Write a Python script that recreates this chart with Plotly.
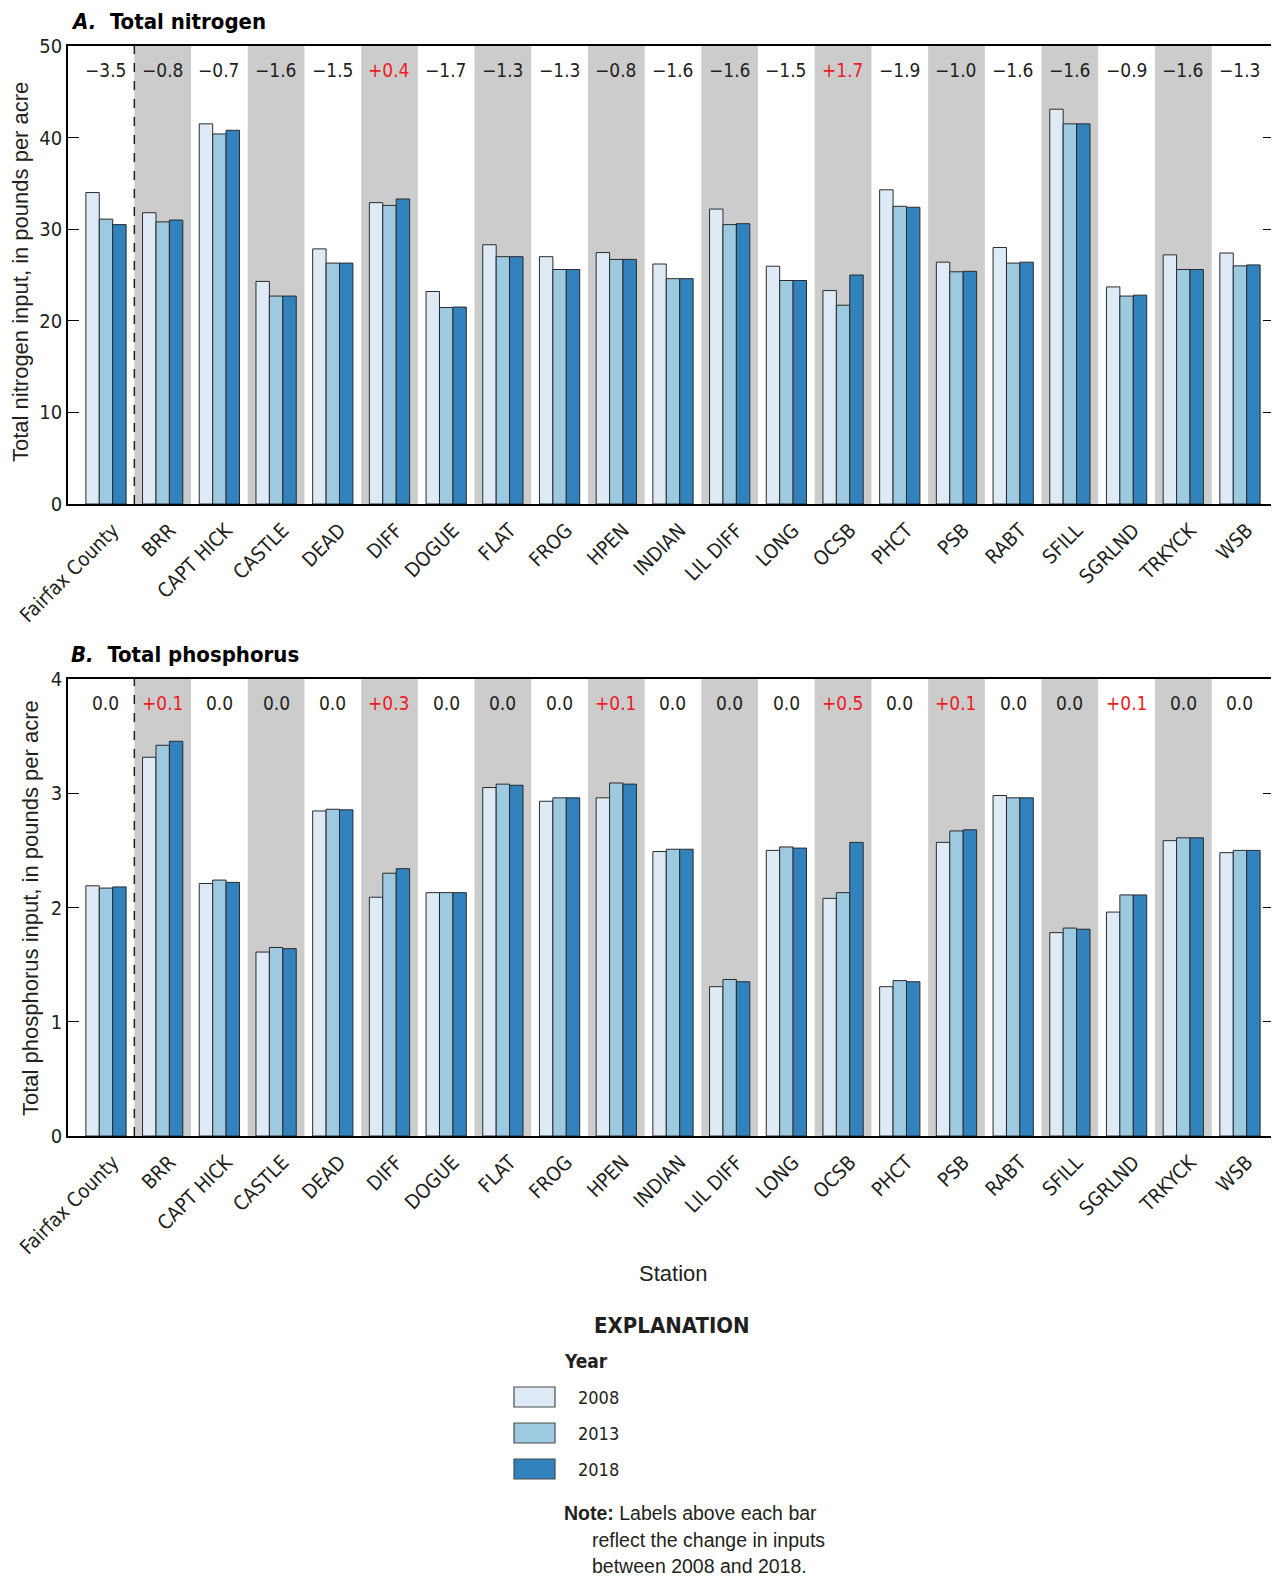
import plotly.graph_objects as go

stations = ["Fairfax County", "BRR", "CAPT HICK", "CASTLE", "DEAD", "DIFF", "DOGUE",
            "FLAT", "FROG", "HPEN", "INDIAN", "LIL DIFF", "LONG", "OCSB", "PHCT",
            "PSB", "RABT", "SFILL", "SGRLND", "TRKYCK", "WSB"]
years = ["2008", "2013", "2018"]

n_2008 = [34.0, 31.8, 41.5, 24.3, 27.85, 32.9, 23.2, 28.3, 27.0, 27.45, 26.2,
          32.2, 25.96, 23.3, 34.3, 26.4, 28.0, 43.1, 23.7, 27.2, 27.4]
n_2013 = [31.1, 30.8, 40.4, 22.7, 26.3, 32.6, 21.45, 27.0, 25.6, 26.7, 24.6,
          30.5, 24.4, 21.7, 32.5, 25.35, 26.3, 41.5, 22.7, 25.6, 26.0]
n_2018 = [30.5, 31.0, 40.8, 22.7, 26.3, 33.3, 21.5, 27.0, 25.6, 26.7, 24.6,
          30.6, 24.4, 25.0, 32.4, 25.4, 26.4, 41.5, 22.8, 25.6, 26.1]
n_change = [-3.5, -0.8, -0.7, -1.6, -1.5, 0.4, -1.7, -1.3, -1.3, -0.8, -1.6,
            -1.6, -1.5, 1.7, -1.9, -1.0, -1.6, -1.6, -0.9, -1.6, -1.3]

p_2008 = [2.19, 3.315, 2.21, 1.61, 2.845, 2.09, 2.13, 3.05, 2.93, 2.96, 2.49,
          1.307, 2.50, 2.08, 1.307, 2.57, 2.98, 1.78, 1.96, 2.585, 2.48]
p_2013 = [2.17, 3.42, 2.24, 1.65, 2.86, 2.30, 2.13, 3.08, 2.96, 3.09, 2.51,
          1.37, 2.53, 2.13, 1.36, 2.67, 2.96, 1.82, 2.11, 2.61, 2.50]
p_2018 = [2.18, 3.455, 2.22, 1.64, 2.855, 2.34, 2.13, 3.07, 2.96, 3.08, 2.51,
          1.35, 2.52, 2.57, 1.35, 2.68, 2.96, 1.81, 2.11, 2.61, 2.50]
p_change = [0.0, 0.1, 0.0, 0.0, 0.0, 0.3, 0.0, 0.0, 0.0, 0.1, 0.0,
            0.0, 0.0, 0.5, 0.0, 0.1, 0.0, 0.0, 0.1, 0.0, 0.0]

colors = ["#deebf7", "#9ecae1", "#3182bd"]
NARROW = "Liberation Sans Narrow, DejaVu Sans Condensed, Roboto Condensed, Arial Narrow, sans-serif"
REG = "Liberation Sans, Arial, sans-serif"
OFF = 8  # default page body margin
W, H = 1279 - OFF, 1583 - OFF

def px_x(p):
    return (p - OFF) / W

def px_y(p):
    return 1 - (p - OFF) / H

fig = go.Figure()
for vals, yr, c in zip([n_2008, n_2013, n_2018], years, colors):
    fig.add_trace(go.Bar(x=list(range(len(stations))), y=vals, name=yr, marker_color=c,
                         marker_line_color="#2b2b2b", marker_line_width=1,
                         xaxis="x", yaxis="y", showlegend=False))
for vals, yr, c in zip([p_2008, p_2013, p_2018], years, colors):
    fig.add_trace(go.Bar(x=list(range(len(stations))), y=vals, name=yr, marker_color=c,
                         marker_line_color="#2b2b2b", marker_line_width=1,
                         xaxis="x2", yaxis="y2", showlegend=False))

xdom = [px_x(68), px_x(1274)]
xr = [-0.67, 20.6]
xcommon = dict(domain=xdom, range=xr, tickmode="array", automargin=False,
               tickvals=list(range(len(stations))), ticktext=stations,
               tickangle=-45, ticks="", showline=True, linecolor="black", linewidth=1.5,
               mirror=True, showgrid=False, zeroline=False,
               ticklabeloverflow="allow", ticklabelshift=7, ticklabelstandoff=5,
               tickfont=dict(family=NARROW, size=20, color="#231f20"))
ycommon = dict(ticks="inside", ticklen=11, tickwidth=1.2, tickcolor="black", automargin=False,
               showline=True, linecolor="black", linewidth=1.5, mirror="ticks",
               showgrid=False, zeroline=False,
               tickfont=dict(family=NARROW, size=20, color="#231f20"))

fig.update_layout(
    width=W, height=H, margin=dict(l=0, r=0, t=0, b=0, autoexpand=False),
    paper_bgcolor="white", plot_bgcolor="white",
    barmode="group", bargap=0.29, bargroupgap=0,
    xaxis=dict(**xcommon, anchor="y"),
    xaxis2=dict(**xcommon, anchor="y2"),
    yaxis=dict(**ycommon, domain=[px_y(504), px_y(46)], range=[0, 50],
               tickvals=[0, 10, 20, 30, 40, 50], anchor="x"),
    yaxis2=dict(**ycommon, domain=[px_y(1136), px_y(679)], range=[0, 4],
                tickvals=[0, 1, 2, 3, 4], anchor="x2"),
)

shapes = []
annotations = []
for xref, yref in [("x", "y domain"), ("x2", "y2 domain")]:
    for i in range(1, len(stations), 2):
        shapes.append(dict(type="rect", xref=xref, yref=yref, x0=i - 0.5, x1=i + 0.5,
                           y0=0, y1=1, fillcolor="#cccccc", line_width=0, layer="below"))
    shapes.append(dict(type="line", xref=xref, yref=yref, x0=0.5, x1=0.5, y0=0, y1=1,
                       line=dict(color="#231f20", width=1.5, dash="dash")))

def fmt(v):
    if v > 0:
        return "+%.1f" % v
    if v < 0:
        return "\u2212%.1f" % abs(v)
    return "0.0"

for xref, yref, ch in [("x", "y domain", n_change), ("x2", "y2 domain", p_change)]:
    for i, v in enumerate(ch):
        annotations.append(dict(x=i, y=0.947, xref=xref, yref=yref, text=fmt(v),
                                xanchor="center", yanchor="middle", showarrow=False,
                                font=dict(family=NARROW, size=19,
                                          color="#ed1c24" if v > 0 else "#231f20")))

def ann(x, y, text, font, xanchor="center", yanchor="middle", **kw):
    annotations.append(dict(x=px_x(x), y=px_y(y), xref="paper", yref="paper", text=text,
                            xanchor=xanchor, yanchor=yanchor, showarrow=False, font=font, **kw))

# panel titles
ann(69, 22, "<b><i>A.</i>  Total nitrogen</b>",
    dict(family=NARROW, size=22, color="black"), xanchor="left")
ann(69, 655, "<b><i>B.</i>  Total phosphorus</b>",
    dict(family=NARROW, size=22, color="black"), xanchor="left")
# axis titles
ann(21, 272, "Total nitrogen input, in pounds per acre",
    dict(family=REG, size=22, color="#231f20"), textangle=-90)
ann(30, 908, "Total phosphorus input, in pounds per acre",
    dict(family=REG, size=22, color="#231f20"), textangle=-90)
ann(673, 1273, "Station", dict(family=REG, size=22, color="#231f20"))

# explanation
ann(672, 1325, "<b>EXPLANATION</b>", dict(family=NARROW, size=22, color="#231f20"))
ann(562, 1361, "<b>Year</b>", dict(family=NARROW, size=19, color="#231f20"), xanchor="left")
sw_y = [1397, 1433, 1469]
for yr, c, yc in zip(years, colors, sw_y):
    shapes.append(dict(type="rect", xref="paper", yref="paper", x0=px_x(514), x1=px_x(555),
                       y0=px_y(yc + 10), y1=px_y(yc - 10), fillcolor=c,
                       line=dict(color="#4a4a4a", width=1.2)))
    ann(576, yc, yr, dict(family=NARROW, size=18, color="#231f20"), xanchor="left")
note_lines = [("<b>Note:</b> Labels above each bar", 562, 1513),
              ("reflect the change in inputs", 590, 1540),
              ("between 2008 and 2018.", 590, 1566)]
for t, xx, yy in note_lines:
    ann(xx, yy, t, dict(family=REG, size=19.5, color="#231f20"), xanchor="left")

fig.update_layout(shapes=shapes, annotations=annotations)
fig.write_html("out.html")
